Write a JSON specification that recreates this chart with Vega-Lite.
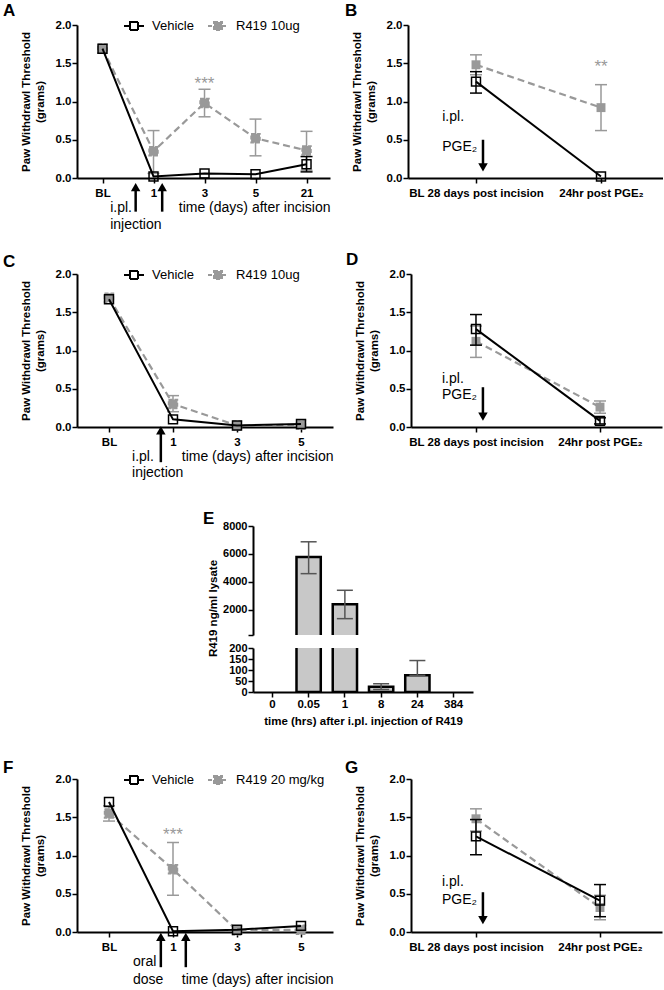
{
"$schema": "https://vega.github.io/schema/vega-lite/v6.json",
"background": "white",
"padding": {"left": 3, "top": 2, "right": 0, "bottom": 0},
"config": {
  "font": "Liberation Sans",
  "view": {"stroke": null},
  "axis": {"domainColor": "#000", "domainWidth": 2, "tickColor": "#000", "tickWidth": 1.5, "tickSize": 5,
    "labelFont": "Liberation Sans", "labelFontWeight": "bold", "labelFontSize": 11.5, "labelColor": "#000",
    "titleFont": "Liberation Sans", "titleFontWeight": "bold", "titleFontSize": 11.5, "titleColor": "#000",
    "grid": false, "labelFlush": false, "labelOverlap": false},
  "axisY": {"labelPadding": 1, "titlePadding": 10},
  "axisX": {"labelPadding": 4, "labelAngle": 0},
  "title": {"font": "Liberation Sans", "fontSize": 17, "fontWeight": "bold", "color": "#000", "anchor": "start", "frame": "group", "baseline": "alphabetic"},
  "legend": {"labelFont": "Liberation Sans", "labelColor": "#000"},
  "tick": {"opacity": 1}
},
"datasets": {
  "A": [
    {"s": "Vehicle", "x": 0, "y": 1.69},
    {"s": "Vehicle", "x": 1, "y": 0.02},
    {"s": "Vehicle", "x": 2, "y": 0.06},
    {"s": "Vehicle", "x": 3, "y": 0.05},
    {"s": "Vehicle", "x": 4, "y": 0.18, "lo": 0.08, "hi": 0.28},
    {"s": "R419 10ug", "x": 0, "y": 1.69},
    {"s": "R419 10ug", "x": 1, "y": 0.35, "lo": 0.06, "hi": 0.62},
    {"s": "R419 10ug", "x": 2, "y": 0.98, "lo": 0.80, "hi": 1.16},
    {"s": "R419 10ug", "x": 3, "y": 0.52, "lo": 0.29, "hi": 0.77},
    {"s": "R419 10ug", "x": 4, "y": 0.36, "lo": 0.10, "hi": 0.61}
  ],
  "B": [
    {"s": "Vehicle", "x": 0, "y": 1.26, "lo": 1.11, "hi": 1.39},
    {"s": "Vehicle", "x": 1, "y": 0.02},
    {"s": "R419 10ug", "x": 0, "y": 1.48, "lo": 1.35, "hi": 1.61},
    {"s": "R419 10ug", "x": 1, "y": 0.92, "lo": 0.62, "hi": 1.22}
  ],
  "C": [
    {"s": "Vehicle", "x": 0, "y": 1.67},
    {"s": "Vehicle", "x": 1, "y": 0.10},
    {"s": "Vehicle", "x": 2, "y": 0.02},
    {"s": "Vehicle", "x": 3, "y": 0.04},
    {"s": "R419 10ug", "x": 0, "y": 1.69},
    {"s": "R419 10ug", "x": 1, "y": 0.30, "lo": 0.20, "hi": 0.41},
    {"s": "R419 10ug", "x": 2, "y": 0.02},
    {"s": "R419 10ug", "x": 3, "y": 0.03}
  ],
  "D": [
    {"s": "Vehicle", "x": 0, "y": 1.28, "lo": 1.07, "hi": 1.47},
    {"s": "Vehicle", "x": 1, "y": 0.08, "lo": 0.04, "hi": 0.12},
    {"s": "R419 10ug", "x": 0, "y": 1.12, "lo": 0.91, "hi": 1.32},
    {"s": "R419 10ug", "x": 1, "y": 0.26, "lo": 0.18, "hi": 0.34}
  ],
  "E": [
    {"t": "0", "v": null},
    {"t": "0.05", "v": 5780, "lo": 4590, "hi": 6870},
    {"t": "1", "v": 2400, "lo": 1370, "hi": 3400},
    {"t": "8", "v": 24, "lo": 11, "hi": 37},
    {"t": "24", "v": 76, "lo": 76, "hi": 143},
    {"t": "384", "v": null}
  ],
  "F": [
    {"s": "Vehicle", "x": 0, "y": 1.70},
    {"s": "Vehicle", "x": 1, "y": 0.01},
    {"s": "Vehicle", "x": 2, "y": 0.03},
    {"s": "Vehicle", "x": 3, "y": 0.08},
    {"s": "R419 20 mg/kg", "x": 0, "y": 1.55, "lo": 1.45, "hi": 1.65},
    {"s": "R419 20 mg/kg", "x": 1, "y": 0.82, "lo": 0.48, "hi": 1.17},
    {"s": "R419 20 mg/kg", "x": 2, "y": 0.02},
    {"s": "R419 20 mg/kg", "x": 3, "y": 0.03}
  ],
  "G": [
    {"s": "Vehicle", "x": 0, "y": 1.25, "lo": 1.01, "hi": 1.47},
    {"s": "Vehicle", "x": 1, "y": 0.41, "lo": 0.20, "hi": 0.62},
    {"s": "R419 20 mg/kg", "x": 0, "y": 1.48, "lo": 1.32, "hi": 1.61},
    {"s": "R419 20 mg/kg", "x": 1, "y": 0.32, "lo": 0.16, "hi": 0.48}
  ],
  "nA": [{"x": 0.15, "y": -0.39, "t": "i.pl."}, {"x": 0.15, "y": -0.61, "t": "injection"}],
  "aA": [{"x": 0.65, "y": -0.44, "y2": -0.12, "yh": -0.12}, {"x": 1.17, "y": -0.44, "y2": -0.12, "yh": -0.12}],
  "sA": [{"x": 2, "y": 1.30, "t": "***"}],
  "nB": [{"x": -0.27, "y": 0.8, "t": "i.pl."}, {"x": -0.27, "y": 0.405, "t": "PGE₂"}],
  "aB": [{"x": 0.056, "y": 0.5, "y2": 0.14, "yh": 0.14}],
  "sB": [{"x": 1, "y": 1.52, "t": "**"}],
  "nC": [{"x": 0.36, "y": -0.39, "t": "i.pl."}, {"x": 0.36, "y": -0.6, "t": "injection"}],
  "aC": [{"x": 0.81, "y": -0.46, "y2": -0.045, "yh": -0.045}],
  "nD": [{"x": -0.274, "y": 0.63, "t": "i.pl."}, {"x": -0.274, "y": 0.42, "t": "PGE₂"}],
  "aD": [{"x": 0.056, "y": 0.52, "y2": 0.135, "yh": 0.135}],
  "nF": [{"x": 0.375, "y": -0.39, "t": "oral"}, {"x": 0.375, "y": -0.63, "t": "dose"}],
  "aF": [{"x": 0.81, "y": -0.46, "y2": -0.065, "yh": -0.065}, {"x": 1.2, "y": -0.46, "y2": -0.065, "yh": -0.065}],
  "sF": [{"x": 1, "y": 1.33, "t": "***"}],
  "nG": [{"x": -0.274, "y": 0.65, "t": "i.pl."}, {"x": -0.274, "y": 0.42, "t": "PGE₂"}],
  "aG": [{"x": 0.056, "y": 0.52, "y2": 0.155, "yh": 0.155}]
},
"resolve": {"scale": {"stroke": "independent", "fill": "independent", "strokeDash": "independent"}},
"spacing": 19,
"vconcat": [
  {"bounds": "flush", "spacing": 78, "resolve": {"scale": {"stroke": "independent", "fill": "independent", "strokeDash": "independent"}}, "hconcat": [
   {"width": 253, "height": 153,
    "title": {"text": "A", "dx": -74, "offset": 7, "dy": 12},
    "data": {"name": "A"},
    "layer": [
     {"transform": [{"filter": "datum.s != 'Vehicle'"}],
      "mark": {"type": "line", "color": "#999999", "strokeWidth": 2.2, "strokeDash": [7, 4]},
      "encoding": {
        "x": {"field": "x", "type": "quantitative", "scale": {"domain": [-0.5, 4.46], "nice": false, "zero": false},
              "axis": {"values": [0, 1, 2, 3, 4], "tickCount": 20, "labelExpr": "['BL','1','3','5','21'][datum.value]", "title": "time (days) after incision", "titleAnchor": "end", "titleFontWeight": "normal", "titleFontSize": 14, "titlePadding": 2}},
        "y": {"field": "y", "type": "quantitative", "scale": {"domain": [0, 2], "nice": false},
              "axis": {"values": [0, 0.5, 1, 1.5, 2], "tickCount": 20, "format": ".1f", "title": ["Paw Withdrawl Threshold", "(grams)"]}}}},
     {"transform": [{"filter": "datum.s != 'Vehicle' && isValid(datum.lo)"}],
      "mark": {"type": "rule", "color": "#999999", "strokeWidth": 1.5},
      "encoding": {"x": {"field": "x", "type": "quantitative", "scale": {"domain": [-0.5, 4.46], "nice": false, "zero": false}},
        "y": {"field": "lo", "type": "quantitative", "scale": {"domain": [0, 2], "nice": false}}, "y2": {"field": "hi"}}},
     {"transform": [{"filter": "datum.s != 'Vehicle' && isValid(datum.lo)"}, {"fold": ["lo", "hi"], "as": ["k", "ev"]}],
      "mark": {"type": "tick", "orient": "horizontal", "color": "#999999", "thickness": 1.5, "size": 12},
      "encoding": {"x": {"field": "x", "type": "quantitative", "scale": {"domain": [-0.5, 4.46], "nice": false, "zero": false}},
        "y": {"field": "ev", "type": "quantitative", "scale": {"domain": [0, 2], "nice": false}}}},
     {"transform": [{"filter": "datum.s != 'Vehicle'"}],
      "mark": {"type": "point", "shape": "square", "size": 80, "strokeWidth": 1.5, "filled": true, "opacity": 1},
      "encoding": {"x": {"field": "x", "type": "quantitative", "scale": {"domain": [-0.5, 4.46], "nice": false, "zero": false}},
        "y": {"field": "y", "type": "quantitative", "scale": {"domain": [0, 2], "nice": false}},
        "stroke": {"field": "s", "type": "nominal", "scale": {"domain": ["Vehicle", "R419 10ug"], "range": ["#000000", "#999999"]},
          "legend": {"title": null, "orient": "none", "direction": "horizontal", "legendX": 46, "legendY": -10, "symbolType": "M-1,0H-0.4M0.4,0H1M-0.4,-0.4H0.4V0.4H-0.4Z", "symbolSize": 400, "symbolStrokeWidth": 2, "labelFontSize": 13, "labelOffset": 7, "columnPadding": 10, "padding": 0}},
        "fill": {"field": "s", "type": "nominal", "scale": {"domain": ["Vehicle", "R419 10ug"], "range": ["transparent", "#999999"]},
          "legend": {"title": null, "orient": "none", "direction": "horizontal", "legendX": 46, "legendY": -10, "symbolType": "M-1,0H-0.4M0.4,0H1M-0.4,-0.4H0.4V0.4H-0.4Z", "symbolSize": 400, "symbolStrokeWidth": 2, "labelFontSize": 13, "labelOffset": 7, "columnPadding": 10, "padding": 0}},
        "strokeDash": {"field": "s", "type": "nominal", "scale": {"domain": ["Vehicle", "R419 10ug"], "range": [[1, 0], [4, 2]]},
          "legend": {"title": null, "orient": "none", "direction": "horizontal", "legendX": 46, "legendY": -10, "symbolType": "M-1,0H-0.4M0.4,0H1M-0.4,-0.4H0.4V0.4H-0.4Z", "symbolSize": 400, "symbolStrokeWidth": 2, "labelFontSize": 13, "labelOffset": 7, "columnPadding": 10, "padding": 0}}}},
     {"transform": [{"filter": "datum.s == 'Vehicle'"}],
      "mark": {"type": "line", "color": "#000000", "strokeWidth": 2},
      "encoding": {"x": {"field": "x", "type": "quantitative", "scale": {"domain": [-0.5, 4.46], "nice": false, "zero": false}},
        "y": {"field": "y", "type": "quantitative", "scale": {"domain": [0, 2], "nice": false}}}},
     {"transform": [{"filter": "datum.s == 'Vehicle' && isValid(datum.lo)"}],
      "mark": {"type": "rule", "color": "#000000", "strokeWidth": 1.5},
      "encoding": {"x": {"field": "x", "type": "quantitative", "scale": {"domain": [-0.5, 4.46], "nice": false, "zero": false}},
        "y": {"field": "lo", "type": "quantitative", "scale": {"domain": [0, 2], "nice": false}}, "y2": {"field": "hi"}}},
     {"transform": [{"filter": "datum.s == 'Vehicle' && isValid(datum.lo)"}, {"fold": ["lo", "hi"], "as": ["k", "ev"]}],
      "mark": {"type": "tick", "orient": "horizontal", "color": "#000000", "thickness": 1.5, "size": 12},
      "encoding": {"x": {"field": "x", "type": "quantitative", "scale": {"domain": [-0.5, 4.46], "nice": false, "zero": false}},
        "y": {"field": "ev", "type": "quantitative", "scale": {"domain": [0, 2], "nice": false}}}},
     {"transform": [{"filter": "datum.s == 'Vehicle'"}],
      "mark": {"type": "point", "shape": "square", "size": 80, "strokeWidth": 1.5, "filled": true, "opacity": 1},
      "encoding": {"x": {"field": "x", "type": "quantitative", "scale": {"domain": [-0.5, 4.46], "nice": false, "zero": false}},
        "y": {"field": "y", "type": "quantitative", "scale": {"domain": [0, 2], "nice": false}},
        "stroke": {"field": "s", "type": "nominal", "scale": {"domain": ["Vehicle", "R419 10ug"], "range": ["#000000", "#999999"]},
          "legend": {"title": null, "orient": "none", "direction": "horizontal", "legendX": 46, "legendY": -10, "symbolType": "M-1,0H-0.4M0.4,0H1M-0.4,-0.4H0.4V0.4H-0.4Z", "symbolSize": 400, "symbolStrokeWidth": 2, "labelFontSize": 13, "labelOffset": 7, "columnPadding": 10, "padding": 0}},
        "fill": {"field": "s", "type": "nominal", "scale": {"domain": ["Vehicle", "R419 10ug"], "range": ["transparent", "#999999"]},
          "legend": {"title": null, "orient": "none", "direction": "horizontal", "legendX": 46, "legendY": -10, "symbolType": "M-1,0H-0.4M0.4,0H1M-0.4,-0.4H0.4V0.4H-0.4Z", "symbolSize": 400, "symbolStrokeWidth": 2, "labelFontSize": 13, "labelOffset": 7, "columnPadding": 10, "padding": 0}},
        "strokeDash": {"field": "s", "type": "nominal", "scale": {"domain": ["Vehicle", "R419 10ug"], "range": [[1, 0], [4, 2]]},
          "legend": {"title": null, "orient": "none", "direction": "horizontal", "legendX": 46, "legendY": -10, "symbolType": "M-1,0H-0.4M0.4,0H1M-0.4,-0.4H0.4V0.4H-0.4Z", "symbolSize": 400, "symbolStrokeWidth": 2, "labelFontSize": 13, "labelOffset": 7, "columnPadding": 10, "padding": 0}}}},
     {"data": {"name": "nA"}, "mark": {"type": "text", "align": "left", "baseline": "middle", "fontSize": 14, "color": "#000"},
      "encoding": {"x": {"field": "x", "type": "quantitative", "scale": {"domain": [-0.5, 4.46], "nice": false, "zero": false}},
        "y": {"field": "y", "type": "quantitative", "scale": {"domain": [0, 2], "nice": false}}, "text": {"field": "t"}}},
     {"data": {"name": "aA"}, "mark": {"type": "rule", "strokeWidth": 2.5, "color": "#000"},
      "encoding": {"x": {"field": "x", "type": "quantitative", "scale": {"domain": [-0.5, 4.46], "nice": false, "zero": false}},
        "y": {"field": "y", "type": "quantitative", "scale": {"domain": [0, 2], "nice": false}}, "y2": {"field": "y2"}}},
     {"data": {"name": "aA"}, "mark": {"type": "point", "shape": "triangle-up", "size": 90, "filled": true, "color": "#000", "opacity": 1},
      "encoding": {"x": {"field": "x", "type": "quantitative", "scale": {"domain": [-0.5, 4.46], "nice": false, "zero": false}},
        "y": {"field": "yh", "type": "quantitative", "scale": {"domain": [0, 2], "nice": false}}}},
     {"data": {"name": "sA"}, "mark": {"type": "text", "align": "center", "baseline": "middle", "dy": 5, "fontSize": 17, "color": "#999999"},
      "encoding": {"x": {"field": "x", "type": "quantitative", "scale": {"domain": [-0.5, 4.46], "nice": false, "zero": false}},
        "y": {"field": "y", "type": "quantitative", "scale": {"domain": [0, 2], "nice": false}}, "text": {"field": "t"}}}
    ]},
   {"width": 255, "height": 153,
    "title": {"text": "B", "dx": -63, "offset": 7, "dy": 8},
    "data": {"name": "B"},
    "layer": [
     {"transform": [{"filter": "datum.s != 'Vehicle'"}],
      "mark": {"type": "line", "color": "#999999", "strokeWidth": 2.2, "strokeDash": [7, 4]},
      "encoding": {
        "x": {"field": "x", "type": "quantitative", "scale": {"domain": [-0.544, 1.496], "nice": false, "zero": false},
              "axis": {"values": [0, 1], "tickCount": 20, "labelExpr": "datum.value == 0 ? 'BL 28 days post incision' : '24hr post PGE₂'", "title": null}},
        "y": {"field": "y", "type": "quantitative", "scale": {"domain": [0, 2], "nice": false},
              "axis": {"values": [0, 0.5, 1, 1.5, 2], "tickCount": 20, "format": ".1f", "title": ["Paw Withdrawl Threshold", "(grams)"]}}}},
     {"transform": [{"filter": "datum.s != 'Vehicle' && isValid(datum.lo)"}],
      "mark": {"type": "rule", "color": "#999999", "strokeWidth": 1.5},
      "encoding": {"x": {"field": "x", "type": "quantitative", "scale": {"domain": [-0.544, 1.496], "nice": false, "zero": false}},
        "y": {"field": "lo", "type": "quantitative", "scale": {"domain": [0, 2], "nice": false}}, "y2": {"field": "hi"}}},
     {"transform": [{"filter": "datum.s != 'Vehicle' && isValid(datum.lo)"}, {"fold": ["lo", "hi"], "as": ["k", "ev"]}],
      "mark": {"type": "tick", "orient": "horizontal", "color": "#999999", "thickness": 1.5, "size": 12},
      "encoding": {"x": {"field": "x", "type": "quantitative", "scale": {"domain": [-0.544, 1.496], "nice": false, "zero": false}},
        "y": {"field": "ev", "type": "quantitative", "scale": {"domain": [0, 2], "nice": false}}}},
     {"transform": [{"filter": "datum.s != 'Vehicle'"}],
      "mark": {"type": "point", "shape": "square", "size": 80, "filled": true, "color": "#999999", "opacity": 1},
      "encoding": {"x": {"field": "x", "type": "quantitative", "scale": {"domain": [-0.544, 1.496], "nice": false, "zero": false}},
        "y": {"field": "y", "type": "quantitative", "scale": {"domain": [0, 2], "nice": false}}}},
     {"transform": [{"filter": "datum.s == 'Vehicle'"}],
      "mark": {"type": "line", "color": "#000000", "strokeWidth": 2},
      "encoding": {"x": {"field": "x", "type": "quantitative", "scale": {"domain": [-0.544, 1.496], "nice": false, "zero": false}},
        "y": {"field": "y", "type": "quantitative", "scale": {"domain": [0, 2], "nice": false}}}},
     {"transform": [{"filter": "datum.s == 'Vehicle' && isValid(datum.lo)"}],
      "mark": {"type": "rule", "color": "#000000", "strokeWidth": 1.5},
      "encoding": {"x": {"field": "x", "type": "quantitative", "scale": {"domain": [-0.544, 1.496], "nice": false, "zero": false}},
        "y": {"field": "lo", "type": "quantitative", "scale": {"domain": [0, 2], "nice": false}}, "y2": {"field": "hi"}}},
     {"transform": [{"filter": "datum.s == 'Vehicle' && isValid(datum.lo)"}, {"fold": ["lo", "hi"], "as": ["k", "ev"]}],
      "mark": {"type": "tick", "orient": "horizontal", "color": "#000000", "thickness": 1.5, "size": 12},
      "encoding": {"x": {"field": "x", "type": "quantitative", "scale": {"domain": [-0.544, 1.496], "nice": false, "zero": false}},
        "y": {"field": "ev", "type": "quantitative", "scale": {"domain": [0, 2], "nice": false}}}},
     {"transform": [{"filter": "datum.s == 'Vehicle'"}],
      "mark": {"type": "point", "shape": "square", "size": 80, "filled": false, "color": "#000000", "strokeWidth": 1.5, "opacity": 1},
      "encoding": {"x": {"field": "x", "type": "quantitative", "scale": {"domain": [-0.544, 1.496], "nice": false, "zero": false}},
        "y": {"field": "y", "type": "quantitative", "scale": {"domain": [0, 2], "nice": false}}}},
     {"data": {"name": "nB"}, "mark": {"type": "text", "align": "left", "baseline": "middle", "fontSize": 14, "color": "#000"},
      "encoding": {"x": {"field": "x", "type": "quantitative", "scale": {"domain": [-0.544, 1.496], "nice": false, "zero": false}},
        "y": {"field": "y", "type": "quantitative", "scale": {"domain": [0, 2], "nice": false}}, "text": {"field": "t"}}},
     {"data": {"name": "aB"}, "mark": {"type": "rule", "strokeWidth": 2.5, "color": "#000"},
      "encoding": {"x": {"field": "x", "type": "quantitative", "scale": {"domain": [-0.544, 1.496], "nice": false, "zero": false}},
        "y": {"field": "y", "type": "quantitative", "scale": {"domain": [0, 2], "nice": false}}, "y2": {"field": "y2"}}},
     {"data": {"name": "aB"}, "mark": {"type": "point", "shape": "triangle-down", "size": 90, "filled": true, "color": "#000", "opacity": 1},
      "encoding": {"x": {"field": "x", "type": "quantitative", "scale": {"domain": [-0.544, 1.496], "nice": false, "zero": false}},
        "y": {"field": "yh", "type": "quantitative", "scale": {"domain": [0, 2], "nice": false}}}},
     {"data": {"name": "sB"}, "mark": {"type": "text", "align": "center", "baseline": "middle", "dy": 5, "fontSize": 17, "color": "#999999"},
      "encoding": {"x": {"field": "x", "type": "quantitative", "scale": {"domain": [-0.544, 1.496], "nice": false, "zero": false}},
        "y": {"field": "y", "type": "quantitative", "scale": {"domain": [0, 2], "nice": false}}, "text": {"field": "t"}}}
    ]}
  ]},
  {"spacing": 30, "resolve": {"scale": {"stroke": "independent", "fill": "independent", "strokeDash": "independent"}}, "vconcat": [
  {"bounds": "flush", "spacing": 78, "resolve": {"scale": {"stroke": "independent", "fill": "independent", "strokeDash": "independent"}}, "hconcat": [
   {"width": 256, "height": 153,
    "title": {"text": "C", "dx": -74, "offset": 8, "dy": 15},
    "data": {"name": "C"},
    "layer": [
     {"transform": [{"filter": "datum.s != 'Vehicle'"}],
      "mark": {"type": "line", "color": "#999999", "strokeWidth": 2.2, "strokeDash": [7, 4]},
      "encoding": {
        "x": {"field": "x", "type": "quantitative", "scale": {"domain": [-0.5, 3.5], "nice": false, "zero": false},
              "axis": {"values": [0, 1, 2, 3], "tickCount": 20, "labelExpr": "['BL','1','3','5'][datum.value]", "title": "time (days) after incision", "titleAnchor": "end", "titleFontWeight": "normal", "titleFontSize": 14, "titlePadding": 2}},
        "y": {"field": "y", "type": "quantitative", "scale": {"domain": [0, 2], "nice": false},
              "axis": {"values": [0, 0.5, 1, 1.5, 2], "tickCount": 20, "format": ".1f", "title": ["Paw Withdrawl Threshold", "(grams)"]}}}},
     {"transform": [{"filter": "datum.s != 'Vehicle' && isValid(datum.lo)"}],
      "mark": {"type": "rule", "color": "#999999", "strokeWidth": 1.5},
      "encoding": {"x": {"field": "x", "type": "quantitative", "scale": {"domain": [-0.5, 3.5], "nice": false, "zero": false}},
        "y": {"field": "lo", "type": "quantitative", "scale": {"domain": [0, 2], "nice": false}}, "y2": {"field": "hi"}}},
     {"transform": [{"filter": "datum.s != 'Vehicle' && isValid(datum.lo)"}, {"fold": ["lo", "hi"], "as": ["k", "ev"]}],
      "mark": {"type": "tick", "orient": "horizontal", "color": "#999999", "thickness": 1.5, "size": 12},
      "encoding": {"x": {"field": "x", "type": "quantitative", "scale": {"domain": [-0.5, 3.5], "nice": false, "zero": false}},
        "y": {"field": "ev", "type": "quantitative", "scale": {"domain": [0, 2], "nice": false}}}},
     {"transform": [{"filter": "datum.s != 'Vehicle'"}],
      "mark": {"type": "point", "shape": "square", "size": 80, "strokeWidth": 1.5, "filled": true, "opacity": 1},
      "encoding": {"x": {"field": "x", "type": "quantitative", "scale": {"domain": [-0.5, 3.5], "nice": false, "zero": false}},
        "y": {"field": "y", "type": "quantitative", "scale": {"domain": [0, 2], "nice": false}},
        "stroke": {"field": "s", "type": "nominal", "scale": {"domain": ["Vehicle", "R419 10ug"], "range": ["#000000", "#999999"]},
          "legend": {"title": null, "orient": "none", "direction": "horizontal", "legendX": 46, "legendY": -10, "symbolType": "M-1,0H-0.4M0.4,0H1M-0.4,-0.4H0.4V0.4H-0.4Z", "symbolSize": 400, "symbolStrokeWidth": 2, "labelFontSize": 13, "labelOffset": 7, "columnPadding": 10, "padding": 0}},
        "fill": {"field": "s", "type": "nominal", "scale": {"domain": ["Vehicle", "R419 10ug"], "range": ["transparent", "#999999"]},
          "legend": {"title": null, "orient": "none", "direction": "horizontal", "legendX": 46, "legendY": -10, "symbolType": "M-1,0H-0.4M0.4,0H1M-0.4,-0.4H0.4V0.4H-0.4Z", "symbolSize": 400, "symbolStrokeWidth": 2, "labelFontSize": 13, "labelOffset": 7, "columnPadding": 10, "padding": 0}},
        "strokeDash": {"field": "s", "type": "nominal", "scale": {"domain": ["Vehicle", "R419 10ug"], "range": [[1, 0], [4, 2]]},
          "legend": {"title": null, "orient": "none", "direction": "horizontal", "legendX": 46, "legendY": -10, "symbolType": "M-1,0H-0.4M0.4,0H1M-0.4,-0.4H0.4V0.4H-0.4Z", "symbolSize": 400, "symbolStrokeWidth": 2, "labelFontSize": 13, "labelOffset": 7, "columnPadding": 10, "padding": 0}}}},
     {"transform": [{"filter": "datum.s == 'Vehicle'"}],
      "mark": {"type": "line", "color": "#000000", "strokeWidth": 2},
      "encoding": {"x": {"field": "x", "type": "quantitative", "scale": {"domain": [-0.5, 3.5], "nice": false, "zero": false}},
        "y": {"field": "y", "type": "quantitative", "scale": {"domain": [0, 2], "nice": false}}}},
     {"transform": [{"filter": "datum.s == 'Vehicle'"}],
      "mark": {"type": "point", "shape": "square", "size": 80, "strokeWidth": 1.5, "filled": true, "opacity": 1},
      "encoding": {"x": {"field": "x", "type": "quantitative", "scale": {"domain": [-0.5, 3.5], "nice": false, "zero": false}},
        "y": {"field": "y", "type": "quantitative", "scale": {"domain": [0, 2], "nice": false}},
        "stroke": {"field": "s", "type": "nominal", "scale": {"domain": ["Vehicle", "R419 10ug"], "range": ["#000000", "#999999"]},
          "legend": {"title": null, "orient": "none", "direction": "horizontal", "legendX": 46, "legendY": -10, "symbolType": "M-1,0H-0.4M0.4,0H1M-0.4,-0.4H0.4V0.4H-0.4Z", "symbolSize": 400, "symbolStrokeWidth": 2, "labelFontSize": 13, "labelOffset": 7, "columnPadding": 10, "padding": 0}},
        "fill": {"field": "s", "type": "nominal", "scale": {"domain": ["Vehicle", "R419 10ug"], "range": ["transparent", "#999999"]},
          "legend": {"title": null, "orient": "none", "direction": "horizontal", "legendX": 46, "legendY": -10, "symbolType": "M-1,0H-0.4M0.4,0H1M-0.4,-0.4H0.4V0.4H-0.4Z", "symbolSize": 400, "symbolStrokeWidth": 2, "labelFontSize": 13, "labelOffset": 7, "columnPadding": 10, "padding": 0}},
        "strokeDash": {"field": "s", "type": "nominal", "scale": {"domain": ["Vehicle", "R419 10ug"], "range": [[1, 0], [4, 2]]},
          "legend": {"title": null, "orient": "none", "direction": "horizontal", "legendX": 46, "legendY": -10, "symbolType": "M-1,0H-0.4M0.4,0H1M-0.4,-0.4H0.4V0.4H-0.4Z", "symbolSize": 400, "symbolStrokeWidth": 2, "labelFontSize": 13, "labelOffset": 7, "columnPadding": 10, "padding": 0}}}},
     {"data": {"name": "nC"}, "mark": {"type": "text", "align": "left", "baseline": "middle", "fontSize": 14, "color": "#000"},
      "encoding": {"x": {"field": "x", "type": "quantitative", "scale": {"domain": [-0.5, 3.5], "nice": false, "zero": false}},
        "y": {"field": "y", "type": "quantitative", "scale": {"domain": [0, 2], "nice": false}}, "text": {"field": "t"}}},
     {"data": {"name": "aC"}, "mark": {"type": "rule", "strokeWidth": 2.5, "color": "#000"},
      "encoding": {"x": {"field": "x", "type": "quantitative", "scale": {"domain": [-0.5, 3.5], "nice": false, "zero": false}},
        "y": {"field": "y", "type": "quantitative", "scale": {"domain": [0, 2], "nice": false}}, "y2": {"field": "y2"}}},
     {"data": {"name": "aC"}, "mark": {"type": "point", "shape": "triangle-up", "size": 90, "filled": true, "color": "#000", "opacity": 1},
      "encoding": {"x": {"field": "x", "type": "quantitative", "scale": {"domain": [-0.5, 3.5], "nice": false, "zero": false}},
        "y": {"field": "yh", "type": "quantitative", "scale": {"domain": [0, 2], "nice": false}}}}
    ]},
   {"width": 251, "height": 153,
    "title": {"text": "D", "dx": -65, "offset": 8, "dy": 9},
    "data": {"name": "D"},
    "layer": [
     {"transform": [{"filter": "datum.s != 'Vehicle'"}],
      "mark": {"type": "line", "color": "#999999", "strokeWidth": 2.2, "strokeDash": [7, 4]},
      "encoding": {
        "x": {"field": "x", "type": "quantitative", "scale": {"domain": [-0.524, 1.5], "nice": false, "zero": false},
              "axis": {"values": [0, 1], "tickCount": 20, "labelExpr": "datum.value == 0 ? 'BL 28 days post incision' : '24hr post PGE₂'", "title": null}},
        "y": {"field": "y", "type": "quantitative", "scale": {"domain": [0, 2], "nice": false},
              "axis": {"values": [0, 0.5, 1, 1.5, 2], "tickCount": 20, "format": ".1f", "title": ["Paw Withdrawl Threshold", "(grams)"]}}}},
     {"transform": [{"filter": "datum.s != 'Vehicle' && isValid(datum.lo)"}],
      "mark": {"type": "rule", "color": "#999999", "strokeWidth": 1.5},
      "encoding": {"x": {"field": "x", "type": "quantitative", "scale": {"domain": [-0.524, 1.5], "nice": false, "zero": false}},
        "y": {"field": "lo", "type": "quantitative", "scale": {"domain": [0, 2], "nice": false}}, "y2": {"field": "hi"}}},
     {"transform": [{"filter": "datum.s != 'Vehicle' && isValid(datum.lo)"}, {"fold": ["lo", "hi"], "as": ["k", "ev"]}],
      "mark": {"type": "tick", "orient": "horizontal", "color": "#999999", "thickness": 1.5, "size": 12},
      "encoding": {"x": {"field": "x", "type": "quantitative", "scale": {"domain": [-0.524, 1.5], "nice": false, "zero": false}},
        "y": {"field": "ev", "type": "quantitative", "scale": {"domain": [0, 2], "nice": false}}}},
     {"transform": [{"filter": "datum.s != 'Vehicle'"}],
      "mark": {"type": "point", "shape": "square", "size": 80, "filled": true, "color": "#999999", "opacity": 1},
      "encoding": {"x": {"field": "x", "type": "quantitative", "scale": {"domain": [-0.524, 1.5], "nice": false, "zero": false}},
        "y": {"field": "y", "type": "quantitative", "scale": {"domain": [0, 2], "nice": false}}}},
     {"transform": [{"filter": "datum.s == 'Vehicle'"}],
      "mark": {"type": "line", "color": "#000000", "strokeWidth": 2},
      "encoding": {"x": {"field": "x", "type": "quantitative", "scale": {"domain": [-0.524, 1.5], "nice": false, "zero": false}},
        "y": {"field": "y", "type": "quantitative", "scale": {"domain": [0, 2], "nice": false}}}},
     {"transform": [{"filter": "datum.s == 'Vehicle' && isValid(datum.lo)"}],
      "mark": {"type": "rule", "color": "#000000", "strokeWidth": 1.5},
      "encoding": {"x": {"field": "x", "type": "quantitative", "scale": {"domain": [-0.524, 1.5], "nice": false, "zero": false}},
        "y": {"field": "lo", "type": "quantitative", "scale": {"domain": [0, 2], "nice": false}}, "y2": {"field": "hi"}}},
     {"transform": [{"filter": "datum.s == 'Vehicle' && isValid(datum.lo)"}, {"fold": ["lo", "hi"], "as": ["k", "ev"]}],
      "mark": {"type": "tick", "orient": "horizontal", "color": "#000000", "thickness": 1.5, "size": 12},
      "encoding": {"x": {"field": "x", "type": "quantitative", "scale": {"domain": [-0.524, 1.5], "nice": false, "zero": false}},
        "y": {"field": "ev", "type": "quantitative", "scale": {"domain": [0, 2], "nice": false}}}},
     {"transform": [{"filter": "datum.s == 'Vehicle'"}],
      "mark": {"type": "point", "shape": "square", "size": 80, "filled": false, "color": "#000000", "strokeWidth": 1.5, "opacity": 1},
      "encoding": {"x": {"field": "x", "type": "quantitative", "scale": {"domain": [-0.524, 1.5], "nice": false, "zero": false}},
        "y": {"field": "y", "type": "quantitative", "scale": {"domain": [0, 2], "nice": false}}}},
     {"data": {"name": "nD"}, "mark": {"type": "text", "align": "left", "baseline": "middle", "fontSize": 14, "color": "#000"},
      "encoding": {"x": {"field": "x", "type": "quantitative", "scale": {"domain": [-0.524, 1.5], "nice": false, "zero": false}},
        "y": {"field": "y", "type": "quantitative", "scale": {"domain": [0, 2], "nice": false}}, "text": {"field": "t"}}},
     {"data": {"name": "aD"}, "mark": {"type": "rule", "strokeWidth": 2.5, "color": "#000"},
      "encoding": {"x": {"field": "x", "type": "quantitative", "scale": {"domain": [-0.524, 1.5], "nice": false, "zero": false}},
        "y": {"field": "y", "type": "quantitative", "scale": {"domain": [0, 2], "nice": false}}, "y2": {"field": "y2"}}},
     {"data": {"name": "aD"}, "mark": {"type": "point", "shape": "triangle-down", "size": 90, "filled": true, "color": "#000", "opacity": 1},
      "encoding": {"x": {"field": "x", "type": "quantitative", "scale": {"domain": [-0.524, 1.5], "nice": false, "zero": false}},
        "y": {"field": "yh", "type": "quantitative", "scale": {"domain": [0, 2], "nice": false}}}}
    ]}
  ]},
  {"spacing": 32, "resolve": {"scale": {"stroke": "independent", "fill": "independent", "strokeDash": "independent"}}, "vconcat": [
  {"bounds": "flush", "spacing": 175, "hconcat": [
   {"width": 1, "height": 1, "data": {"values": []}, "mark": "point"},
   {"bounds": "flush", "spacing": 13, "vconcat": [
    {"width": 220, "height": 109,
     "title": {"text": "E", "dx": -50, "offset": 2, "dy": 10},
     "data": {"name": "E"},
     "layer": [
      {"transform": [{"filter": "datum.v > 200"}],
       "mark": {"type": "bar", "fill": "#c8c8c8", "stroke": "#000", "strokeWidth": 2.5, "clip": true},
       "encoding": {
         "x": {"field": "t", "type": "nominal", "sort": null, "scale": {"domain": ["0", "0.05", "1", "8", "24", "384"], "paddingInner": 0.33, "paddingOuter": 0.2}, "axis": null},
         "y": {"field": "v", "type": "quantitative", "scale": {"domain": [200, 8000], "nice": false, "zero": false},
               "axis": {"values": [200, 2000, 4000, 6000, 8000], "tickCount": 20, "format": "d", "labelExpr": "datum.value == 200 ? '' : datum.label", "title": "R419 ng/ml lysate", "titleY": 82, "titlePadding": 4, "labelFontSize": 11}},
         "y2": {"datum": 0}}},
      {"transform": [{"filter": "datum.v > 200"}],
       "mark": {"type": "rule", "color": "#555555", "strokeWidth": 1.5},
       "encoding": {
         "x": {"field": "t", "type": "nominal", "sort": null, "scale": {"domain": ["0", "0.05", "1", "8", "24", "384"], "paddingInner": 0.33, "paddingOuter": 0.2}},
         "y": {"field": "lo", "type": "quantitative", "scale": {"domain": [200, 8000], "nice": false, "zero": false}},
         "y2": {"field": "hi"}}},
      {"transform": [{"filter": "datum.v > 200"}, {"fold": ["lo", "hi"], "as": ["k", "ev"]}],
       "mark": {"type": "tick", "orient": "horizontal", "color": "#555555", "thickness": 1.5, "size": 16},
       "encoding": {
         "x": {"field": "t", "type": "nominal", "sort": null, "scale": {"domain": ["0", "0.05", "1", "8", "24", "384"], "paddingInner": 0.33, "paddingOuter": 0.2}},
         "y": {"field": "ev", "type": "quantitative", "scale": {"domain": [200, 8000], "nice": false, "zero": false}}}}
     ]},
    {"width": 220, "height": 44,
     "data": {"name": "E"},
     "layer": [
      {"transform": [{"filter": "datum.v > 0"}],
       "mark": {"type": "bar", "fill": "#c8c8c8", "stroke": "#000", "strokeWidth": 2.5, "clip": true},
       "encoding": {
         "x": {"field": "t", "type": "nominal", "sort": null, "scale": {"domain": ["0", "0.05", "1", "8", "24", "384"], "paddingInner": 0.33, "paddingOuter": 0.2},
               "axis": {"title": "time (hrs) after i.pl. injection of R419", "labelPadding": 1, "titlePadding": 6}},
         "y": {"field": "v", "type": "quantitative", "scale": {"domain": [0, 200], "nice": false},
               "axis": {"values": [0, 50, 100, 150, 200], "tickCount": 20, "title": null, "labelFontSize": 11}}}},
      {"transform": [{"filter": "datum.v > 0 && datum.v <= 200"}],
       "mark": {"type": "rule", "color": "#555555", "strokeWidth": 1.5},
       "encoding": {
         "x": {"field": "t", "type": "nominal", "sort": null, "scale": {"domain": ["0", "0.05", "1", "8", "24", "384"], "paddingInner": 0.33, "paddingOuter": 0.2}},
         "y": {"field": "lo", "type": "quantitative", "scale": {"domain": [0, 200], "nice": false}},
         "y2": {"field": "hi"}}},
      {"transform": [{"filter": "datum.v > 0 && datum.v <= 200"}, {"fold": ["lo", "hi"], "as": ["k", "ev"]}],
       "mark": {"type": "tick", "orient": "horizontal", "color": "#555555", "thickness": 1.5, "size": 16},
       "encoding": {
         "x": {"field": "t", "type": "nominal", "sort": null, "scale": {"domain": ["0", "0.05", "1", "8", "24", "384"], "paddingInner": 0.33, "paddingOuter": 0.2}},
         "y": {"field": "ev", "type": "quantitative", "scale": {"domain": [0, 200], "nice": false}}}}
     ]}
   ]}
  ]},
  {"bounds": "flush", "spacing": 78, "resolve": {"scale": {"stroke": "independent", "fill": "independent", "strokeDash": "independent"}}, "hconcat": [
   {"width": 256, "height": 153,
    "title": {"text": "F", "dx": -74, "offset": 8, "dy": 16},
    "data": {"name": "F"},
    "layer": [
     {"transform": [{"filter": "datum.s != 'Vehicle'"}],
      "mark": {"type": "line", "color": "#999999", "strokeWidth": 2.2, "strokeDash": [7, 4]},
      "encoding": {
        "x": {"field": "x", "type": "quantitative", "scale": {"domain": [-0.5, 3.5], "nice": false, "zero": false},
              "axis": {"values": [0, 1, 2, 3], "tickCount": 20, "labelExpr": "['BL','1','3','5'][datum.value]", "title": "time (days) after incision", "titleAnchor": "end", "titleFontWeight": "normal", "titleFontSize": 14, "titlePadding": 20}},
        "y": {"field": "y", "type": "quantitative", "scale": {"domain": [0, 2], "nice": false},
              "axis": {"values": [0, 0.5, 1, 1.5, 2], "tickCount": 20, "format": ".1f", "title": ["Paw Withdrawl Threshold", "(grams)"]}}}},
     {"transform": [{"filter": "datum.s != 'Vehicle' && isValid(datum.lo)"}],
      "mark": {"type": "rule", "color": "#999999", "strokeWidth": 1.5},
      "encoding": {"x": {"field": "x", "type": "quantitative", "scale": {"domain": [-0.5, 3.5], "nice": false, "zero": false}},
        "y": {"field": "lo", "type": "quantitative", "scale": {"domain": [0, 2], "nice": false}}, "y2": {"field": "hi"}}},
     {"transform": [{"filter": "datum.s != 'Vehicle' && isValid(datum.lo)"}, {"fold": ["lo", "hi"], "as": ["k", "ev"]}],
      "mark": {"type": "tick", "orient": "horizontal", "color": "#999999", "thickness": 1.5, "size": 12},
      "encoding": {"x": {"field": "x", "type": "quantitative", "scale": {"domain": [-0.5, 3.5], "nice": false, "zero": false}},
        "y": {"field": "ev", "type": "quantitative", "scale": {"domain": [0, 2], "nice": false}}}},
     {"transform": [{"filter": "datum.s != 'Vehicle'"}],
      "mark": {"type": "point", "shape": "square", "size": 80, "strokeWidth": 1.5, "filled": true, "opacity": 1},
      "encoding": {"x": {"field": "x", "type": "quantitative", "scale": {"domain": [-0.5, 3.5], "nice": false, "zero": false}},
        "y": {"field": "y", "type": "quantitative", "scale": {"domain": [0, 2], "nice": false}},
        "stroke": {"field": "s", "type": "nominal", "scale": {"domain": ["Vehicle", "R419 20 mg/kg"], "range": ["#000000", "#999999"]},
          "legend": {"title": null, "orient": "none", "direction": "horizontal", "legendX": 46, "legendY": -10, "symbolType": "M-1,0H-0.4M0.4,0H1M-0.4,-0.4H0.4V0.4H-0.4Z", "symbolSize": 400, "symbolStrokeWidth": 2, "labelFontSize": 13, "labelOffset": 7, "columnPadding": 10, "padding": 0}},
        "fill": {"field": "s", "type": "nominal", "scale": {"domain": ["Vehicle", "R419 20 mg/kg"], "range": ["transparent", "#999999"]},
          "legend": {"title": null, "orient": "none", "direction": "horizontal", "legendX": 46, "legendY": -10, "symbolType": "M-1,0H-0.4M0.4,0H1M-0.4,-0.4H0.4V0.4H-0.4Z", "symbolSize": 400, "symbolStrokeWidth": 2, "labelFontSize": 13, "labelOffset": 7, "columnPadding": 10, "padding": 0}},
        "strokeDash": {"field": "s", "type": "nominal", "scale": {"domain": ["Vehicle", "R419 20 mg/kg"], "range": [[1, 0], [4, 2]]},
          "legend": {"title": null, "orient": "none", "direction": "horizontal", "legendX": 46, "legendY": -10, "symbolType": "M-1,0H-0.4M0.4,0H1M-0.4,-0.4H0.4V0.4H-0.4Z", "symbolSize": 400, "symbolStrokeWidth": 2, "labelFontSize": 13, "labelOffset": 7, "columnPadding": 10, "padding": 0}}}},
     {"transform": [{"filter": "datum.s == 'Vehicle'"}],
      "mark": {"type": "line", "color": "#000000", "strokeWidth": 2},
      "encoding": {"x": {"field": "x", "type": "quantitative", "scale": {"domain": [-0.5, 3.5], "nice": false, "zero": false}},
        "y": {"field": "y", "type": "quantitative", "scale": {"domain": [0, 2], "nice": false}}}},
     {"transform": [{"filter": "datum.s == 'Vehicle'"}],
      "mark": {"type": "point", "shape": "square", "size": 80, "strokeWidth": 1.5, "filled": true, "opacity": 1},
      "encoding": {"x": {"field": "x", "type": "quantitative", "scale": {"domain": [-0.5, 3.5], "nice": false, "zero": false}},
        "y": {"field": "y", "type": "quantitative", "scale": {"domain": [0, 2], "nice": false}},
        "stroke": {"field": "s", "type": "nominal", "scale": {"domain": ["Vehicle", "R419 20 mg/kg"], "range": ["#000000", "#999999"]},
          "legend": {"title": null, "orient": "none", "direction": "horizontal", "legendX": 46, "legendY": -10, "symbolType": "M-1,0H-0.4M0.4,0H1M-0.4,-0.4H0.4V0.4H-0.4Z", "symbolSize": 400, "symbolStrokeWidth": 2, "labelFontSize": 13, "labelOffset": 7, "columnPadding": 10, "padding": 0}},
        "fill": {"field": "s", "type": "nominal", "scale": {"domain": ["Vehicle", "R419 20 mg/kg"], "range": ["transparent", "#999999"]},
          "legend": {"title": null, "orient": "none", "direction": "horizontal", "legendX": 46, "legendY": -10, "symbolType": "M-1,0H-0.4M0.4,0H1M-0.4,-0.4H0.4V0.4H-0.4Z", "symbolSize": 400, "symbolStrokeWidth": 2, "labelFontSize": 13, "labelOffset": 7, "columnPadding": 10, "padding": 0}},
        "strokeDash": {"field": "s", "type": "nominal", "scale": {"domain": ["Vehicle", "R419 20 mg/kg"], "range": [[1, 0], [4, 2]]},
          "legend": {"title": null, "orient": "none", "direction": "horizontal", "legendX": 46, "legendY": -10, "symbolType": "M-1,0H-0.4M0.4,0H1M-0.4,-0.4H0.4V0.4H-0.4Z", "symbolSize": 400, "symbolStrokeWidth": 2, "labelFontSize": 13, "labelOffset": 7, "columnPadding": 10, "padding": 0}}}},
     {"data": {"name": "nF"}, "mark": {"type": "text", "align": "left", "baseline": "middle", "fontSize": 14, "color": "#000"},
      "encoding": {"x": {"field": "x", "type": "quantitative", "scale": {"domain": [-0.5, 3.5], "nice": false, "zero": false}},
        "y": {"field": "y", "type": "quantitative", "scale": {"domain": [0, 2], "nice": false}}, "text": {"field": "t"}}},
     {"data": {"name": "aF"}, "mark": {"type": "rule", "strokeWidth": 2.5, "color": "#000"},
      "encoding": {"x": {"field": "x", "type": "quantitative", "scale": {"domain": [-0.5, 3.5], "nice": false, "zero": false}},
        "y": {"field": "y", "type": "quantitative", "scale": {"domain": [0, 2], "nice": false}}, "y2": {"field": "y2"}}},
     {"data": {"name": "aF"}, "mark": {"type": "point", "shape": "triangle-up", "size": 90, "filled": true, "color": "#000", "opacity": 1},
      "encoding": {"x": {"field": "x", "type": "quantitative", "scale": {"domain": [-0.5, 3.5], "nice": false, "zero": false}},
        "y": {"field": "yh", "type": "quantitative", "scale": {"domain": [0, 2], "nice": false}}}},
     {"data": {"name": "sF"}, "mark": {"type": "text", "align": "center", "baseline": "middle", "dy": 5, "fontSize": 17, "color": "#999999"},
      "encoding": {"x": {"field": "x", "type": "quantitative", "scale": {"domain": [-0.5, 3.5], "nice": false, "zero": false}},
        "y": {"field": "y", "type": "quantitative", "scale": {"domain": [0, 2], "nice": false}}, "text": {"field": "t"}}}
    ]},
   {"width": 251, "height": 153,
    "title": {"text": "G", "dx": -66, "offset": 8, "dy": 12},
    "data": {"name": "G"},
    "layer": [
     {"transform": [{"filter": "datum.s != 'Vehicle'"}],
      "mark": {"type": "line", "color": "#999999", "strokeWidth": 2.2, "strokeDash": [7, 4]},
      "encoding": {
        "x": {"field": "x", "type": "quantitative", "scale": {"domain": [-0.524, 1.5], "nice": false, "zero": false},
              "axis": {"values": [0, 1], "tickCount": 20, "labelExpr": "datum.value == 0 ? 'BL 28 days post incision' : '24hr post PGE₂'", "title": null}},
        "y": {"field": "y", "type": "quantitative", "scale": {"domain": [0, 2], "nice": false},
              "axis": {"values": [0, 0.5, 1, 1.5, 2], "tickCount": 20, "format": ".1f", "title": ["Paw Withdrawl Threshold", "(grams)"]}}}},
     {"transform": [{"filter": "datum.s != 'Vehicle' && isValid(datum.lo)"}],
      "mark": {"type": "rule", "color": "#999999", "strokeWidth": 1.5},
      "encoding": {"x": {"field": "x", "type": "quantitative", "scale": {"domain": [-0.524, 1.5], "nice": false, "zero": false}},
        "y": {"field": "lo", "type": "quantitative", "scale": {"domain": [0, 2], "nice": false}}, "y2": {"field": "hi"}}},
     {"transform": [{"filter": "datum.s != 'Vehicle' && isValid(datum.lo)"}, {"fold": ["lo", "hi"], "as": ["k", "ev"]}],
      "mark": {"type": "tick", "orient": "horizontal", "color": "#999999", "thickness": 1.5, "size": 12},
      "encoding": {"x": {"field": "x", "type": "quantitative", "scale": {"domain": [-0.524, 1.5], "nice": false, "zero": false}},
        "y": {"field": "ev", "type": "quantitative", "scale": {"domain": [0, 2], "nice": false}}}},
     {"transform": [{"filter": "datum.s != 'Vehicle'"}],
      "mark": {"type": "point", "shape": "square", "size": 80, "filled": true, "color": "#999999", "opacity": 1},
      "encoding": {"x": {"field": "x", "type": "quantitative", "scale": {"domain": [-0.524, 1.5], "nice": false, "zero": false}},
        "y": {"field": "y", "type": "quantitative", "scale": {"domain": [0, 2], "nice": false}}}},
     {"transform": [{"filter": "datum.s == 'Vehicle'"}],
      "mark": {"type": "line", "color": "#000000", "strokeWidth": 2},
      "encoding": {"x": {"field": "x", "type": "quantitative", "scale": {"domain": [-0.524, 1.5], "nice": false, "zero": false}},
        "y": {"field": "y", "type": "quantitative", "scale": {"domain": [0, 2], "nice": false}}}},
     {"transform": [{"filter": "datum.s == 'Vehicle' && isValid(datum.lo)"}],
      "mark": {"type": "rule", "color": "#000000", "strokeWidth": 1.5},
      "encoding": {"x": {"field": "x", "type": "quantitative", "scale": {"domain": [-0.524, 1.5], "nice": false, "zero": false}},
        "y": {"field": "lo", "type": "quantitative", "scale": {"domain": [0, 2], "nice": false}}, "y2": {"field": "hi"}}},
     {"transform": [{"filter": "datum.s == 'Vehicle' && isValid(datum.lo)"}, {"fold": ["lo", "hi"], "as": ["k", "ev"]}],
      "mark": {"type": "tick", "orient": "horizontal", "color": "#000000", "thickness": 1.5, "size": 12},
      "encoding": {"x": {"field": "x", "type": "quantitative", "scale": {"domain": [-0.524, 1.5], "nice": false, "zero": false}},
        "y": {"field": "ev", "type": "quantitative", "scale": {"domain": [0, 2], "nice": false}}}},
     {"transform": [{"filter": "datum.s == 'Vehicle'"}],
      "mark": {"type": "point", "shape": "square", "size": 80, "filled": false, "color": "#000000", "strokeWidth": 1.5, "opacity": 1},
      "encoding": {"x": {"field": "x", "type": "quantitative", "scale": {"domain": [-0.524, 1.5], "nice": false, "zero": false}},
        "y": {"field": "y", "type": "quantitative", "scale": {"domain": [0, 2], "nice": false}}}},
     {"data": {"name": "nG"}, "mark": {"type": "text", "align": "left", "baseline": "middle", "fontSize": 14, "color": "#000"},
      "encoding": {"x": {"field": "x", "type": "quantitative", "scale": {"domain": [-0.524, 1.5], "nice": false, "zero": false}},
        "y": {"field": "y", "type": "quantitative", "scale": {"domain": [0, 2], "nice": false}}, "text": {"field": "t"}}},
     {"data": {"name": "aG"}, "mark": {"type": "rule", "strokeWidth": 2.5, "color": "#000"},
      "encoding": {"x": {"field": "x", "type": "quantitative", "scale": {"domain": [-0.524, 1.5], "nice": false, "zero": false}},
        "y": {"field": "y", "type": "quantitative", "scale": {"domain": [0, 2], "nice": false}}, "y2": {"field": "y2"}}},
     {"data": {"name": "aG"}, "mark": {"type": "point", "shape": "triangle-down", "size": 90, "filled": true, "color": "#000", "opacity": 1},
      "encoding": {"x": {"field": "x", "type": "quantitative", "scale": {"domain": [-0.524, 1.5], "nice": false, "zero": false}},
        "y": {"field": "yh", "type": "quantitative", "scale": {"domain": [0, 2], "nice": false}}}}
    ]}
  ]}
  ]}
  ]}
]
}
